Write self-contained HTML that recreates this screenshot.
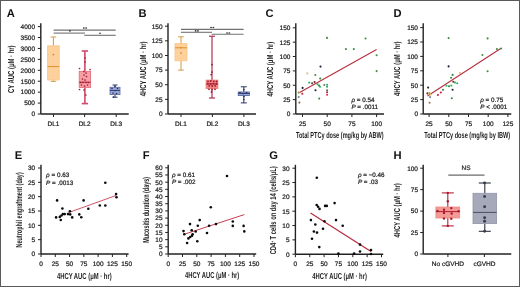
<!DOCTYPE html>
<html><head><meta charset="utf-8"><style>
html,body{margin:0;padding:0;background:#fff;}
body{width:520px;height:287px;overflow:hidden;position:relative;}
svg{position:absolute;left:0;top:0;font-family:"Liberation Sans", sans-serif;will-change:transform;text-rendering:geometricPrecision;}
.n{stroke:#222;stroke-width:0.22px;paint-order:stroke;}
.frame{position:absolute;left:0;top:0;width:520px;height:287px;box-sizing:border-box;border:1px solid #5a5a5a;}
</style></head><body>
<svg width="520" height="287" viewBox="0 0 520 287" fill="#1e1e1e">
<text x="6.80" y="16.80" font-size="11.2" text-anchor="start" font-weight="bold" fill="#111" >A</text>
<line x1="40.80" y1="23.20" x2="40.80" y2="114.00" stroke="#222222" stroke-width="1.4" />
<line x1="37.80" y1="114.00" x2="40.80" y2="114.00" stroke="#222222" stroke-width="1.0" />
<text x="35.00" y="116.34" font-size="6.5" text-anchor="end" class="n" >0</text>
<line x1="37.80" y1="103.08" x2="40.80" y2="103.08" stroke="#222222" stroke-width="1.0" />
<text x="35.00" y="105.42" font-size="6.5" text-anchor="end" class="n" >500</text>
<line x1="37.80" y1="92.15" x2="40.80" y2="92.15" stroke="#222222" stroke-width="1.0" />
<text x="35.00" y="94.49" font-size="6.5" text-anchor="end" class="n" >1000</text>
<line x1="37.80" y1="81.22" x2="40.80" y2="81.22" stroke="#222222" stroke-width="1.0" />
<text x="35.00" y="83.56" font-size="6.5" text-anchor="end" class="n" >1500</text>
<line x1="37.80" y1="70.30" x2="40.80" y2="70.30" stroke="#222222" stroke-width="1.0" />
<text x="35.00" y="72.64" font-size="6.5" text-anchor="end" class="n" >2000</text>
<line x1="37.80" y1="59.38" x2="40.80" y2="59.38" stroke="#222222" stroke-width="1.0" />
<text x="35.00" y="61.72" font-size="6.5" text-anchor="end" class="n" >2500</text>
<line x1="37.80" y1="48.45" x2="40.80" y2="48.45" stroke="#222222" stroke-width="1.0" />
<text x="35.00" y="50.79" font-size="6.5" text-anchor="end" class="n" >3000</text>
<line x1="37.80" y1="37.52" x2="40.80" y2="37.52" stroke="#222222" stroke-width="1.0" />
<text x="35.00" y="39.86" font-size="6.5" text-anchor="end" class="n" >3500</text>
<line x1="37.80" y1="26.60" x2="40.80" y2="26.60" stroke="#222222" stroke-width="1.0" />
<text x="35.00" y="28.94" font-size="6.5" text-anchor="end" class="n" >4000</text>
<line x1="40.80" y1="114.00" x2="128.70" y2="114.00" stroke="#222222" stroke-width="1.4" />
<line x1="53.50" y1="114.00" x2="53.50" y2="117.00" stroke="#222222" stroke-width="1.0" />
<text x="53.50" y="125.60" font-size="6.5" text-anchor="middle" class="n" >DL1</text>
<line x1="84.60" y1="114.00" x2="84.60" y2="117.00" stroke="#222222" stroke-width="1.0" />
<text x="84.60" y="125.60" font-size="6.5" text-anchor="middle" class="n" >DL2</text>
<line x1="116.20" y1="114.00" x2="116.20" y2="117.00" stroke="#222222" stroke-width="1.0" />
<text x="116.20" y="125.60" font-size="6.5" text-anchor="middle" class="n" >DL3</text>
<text x="14.05" y="69.20" font-size="8.6" text-anchor="middle" font-weight="bold" textLength="47.50" lengthAdjust="spacingAndGlyphs" transform="rotate(-90 14.05 69.20)" >CY AUC (μM · hr)</text>
<line x1="53.60" y1="30.10" x2="115.70" y2="30.10" stroke="#727272" stroke-width="1.1" />
<line x1="53.60" y1="33.10" x2="85.00" y2="33.10" stroke="#727272" stroke-width="1.1" />
<line x1="84.20" y1="35.30" x2="115.70" y2="35.30" stroke="#727272" stroke-width="1.1" />
<ellipse cx="83.85" cy="28.10" rx="0.95" ry="0.8" fill="#3a3a3a"/>
<ellipse cx="86.15" cy="28.10" rx="0.95" ry="0.8" fill="#3a3a3a"/>
<ellipse cx="69.90" cy="30.90" rx="0.95" ry="0.8" fill="#3a3a3a"/>
<ellipse cx="100.00" cy="33.20" rx="0.95" ry="0.8" fill="#3a3a3a"/>
<line x1="53.40" y1="37.00" x2="53.40" y2="45.80" stroke="#d09a40" stroke-width="1.0" />
<line x1="53.40" y1="80.00" x2="53.40" y2="81.30" stroke="#d09a40" stroke-width="1.0" />
<line x1="50.60" y1="37.00" x2="56.20" y2="37.00" stroke="#d09a40" stroke-width="1.0" />
<line x1="50.60" y1="81.30" x2="56.20" y2="81.30" stroke="#d09a40" stroke-width="1.0" />
<rect x="47.60" y="45.80" width="11.60" height="34.20" fill="#fdd09c" stroke="#f8c688" stroke-width="0.8" />
<line x1="47.60" y1="66.60" x2="59.20" y2="66.60" stroke="#e0902e" stroke-width="1.0" />
<circle cx="53.40" cy="54.60" r="0.9" fill="#d08a30"/>
<line x1="84.90" y1="51.00" x2="84.90" y2="71.30" stroke="#d04a6a" stroke-width="1.6" />
<line x1="84.90" y1="87.50" x2="84.90" y2="103.60" stroke="#d04a6a" stroke-width="1.6" />
<line x1="81.70" y1="51.00" x2="88.10" y2="51.00" stroke="#d04a6a" stroke-width="1.6" />
<line x1="81.70" y1="103.60" x2="88.10" y2="103.60" stroke="#d04a6a" stroke-width="1.6" />
<rect x="79.20" y="71.30" width="11.40" height="16.20" fill="#f5a0a4" stroke="#e06a78" stroke-width="0.8" />
<line x1="79.20" y1="82.20" x2="90.60" y2="82.20" stroke="#b02038" stroke-width="1.0" />
<circle cx="79.50" cy="68.50" r="0.85" fill="#a81c34"/>
<circle cx="90.00" cy="69.50" r="0.85" fill="#a81c34"/>
<circle cx="83.80" cy="71.50" r="0.85" fill="#a81c34"/>
<circle cx="86.00" cy="73.00" r="0.85" fill="#a81c34"/>
<circle cx="84.00" cy="75.00" r="0.85" fill="#a81c34"/>
<circle cx="86.50" cy="76.50" r="0.85" fill="#a81c34"/>
<circle cx="82.50" cy="79.00" r="0.85" fill="#a81c34"/>
<circle cx="85.00" cy="80.00" r="0.85" fill="#a81c34"/>
<circle cx="80.50" cy="82.50" r="0.85" fill="#a81c34"/>
<circle cx="83.00" cy="82.50" r="0.85" fill="#a81c34"/>
<circle cx="86.00" cy="82.50" r="0.85" fill="#a81c34"/>
<circle cx="88.50" cy="82.50" r="0.85" fill="#a81c34"/>
<circle cx="81.50" cy="85.00" r="0.85" fill="#a81c34"/>
<circle cx="84.50" cy="86.00" r="0.85" fill="#a81c34"/>
<circle cx="87.50" cy="85.00" r="0.85" fill="#a81c34"/>
<circle cx="79.50" cy="89.50" r="0.85" fill="#a81c34"/>
<circle cx="84.00" cy="90.00" r="0.85" fill="#a81c34"/>
<circle cx="85.80" cy="95.00" r="0.85" fill="#a81c34"/>
<circle cx="85.00" cy="62.00" r="0.85" fill="#a81c34"/>
<circle cx="85.00" cy="58.00" r="0.85" fill="#a81c34"/>
<line x1="115.00" y1="85.00" x2="115.00" y2="87.30" stroke="#283468" stroke-width="1.0" />
<line x1="115.00" y1="94.60" x2="115.00" y2="97.20" stroke="#283468" stroke-width="1.0" />
<line x1="112.50" y1="85.00" x2="117.50" y2="85.00" stroke="#283468" stroke-width="1.0" />
<line x1="112.50" y1="97.20" x2="117.50" y2="97.20" stroke="#283468" stroke-width="1.0" />
<rect x="110.00" y="87.30" width="10.00" height="7.30" fill="#9aa8d4" stroke="#5a6ca4" stroke-width="0.8" />
<line x1="110.00" y1="90.50" x2="120.00" y2="90.50" stroke="#34437c" stroke-width="1.0" />
<circle cx="112.00" cy="88.50" r="0.85" fill="#26336a"/>
<circle cx="117.50" cy="88.50" r="0.85" fill="#26336a"/>
<circle cx="115.00" cy="90.50" r="0.85" fill="#26336a"/>
<circle cx="113.00" cy="93.00" r="0.85" fill="#26336a"/>
<circle cx="116.50" cy="93.50" r="0.85" fill="#26336a"/>
<circle cx="115.00" cy="86.50" r="0.85" fill="#26336a"/>
<circle cx="113.50" cy="97.00" r="0.85" fill="#26336a"/>
<text x="138.60" y="16.80" font-size="11.2" text-anchor="start" font-weight="bold" fill="#111" >B</text>
<line x1="168.00" y1="23.20" x2="168.00" y2="114.00" stroke="#222222" stroke-width="1.4" />
<line x1="165.00" y1="114.00" x2="168.00" y2="114.00" stroke="#222222" stroke-width="1.0" />
<text x="162.60" y="116.34" font-size="6.5" text-anchor="end" class="n" >0</text>
<line x1="165.00" y1="99.37" x2="168.00" y2="99.37" stroke="#222222" stroke-width="1.0" />
<text x="162.60" y="101.71" font-size="6.5" text-anchor="end" class="n" >25</text>
<line x1="165.00" y1="84.73" x2="168.00" y2="84.73" stroke="#222222" stroke-width="1.0" />
<text x="162.60" y="87.07" font-size="6.5" text-anchor="end" class="n" >50</text>
<line x1="165.00" y1="70.10" x2="168.00" y2="70.10" stroke="#222222" stroke-width="1.0" />
<text x="162.60" y="72.44" font-size="6.5" text-anchor="end" class="n" >75</text>
<line x1="165.00" y1="55.47" x2="168.00" y2="55.47" stroke="#222222" stroke-width="1.0" />
<text x="162.60" y="57.81" font-size="6.5" text-anchor="end" class="n" >100</text>
<line x1="165.00" y1="40.83" x2="168.00" y2="40.83" stroke="#222222" stroke-width="1.0" />
<text x="162.60" y="43.17" font-size="6.5" text-anchor="end" class="n" >125</text>
<line x1="165.00" y1="26.20" x2="168.00" y2="26.20" stroke="#222222" stroke-width="1.0" />
<text x="162.60" y="28.54" font-size="6.5" text-anchor="end" class="n" >150</text>
<line x1="168.00" y1="114.00" x2="256.00" y2="114.00" stroke="#222222" stroke-width="1.4" />
<line x1="181.00" y1="114.00" x2="181.00" y2="117.00" stroke="#222222" stroke-width="1.0" />
<text x="181.00" y="125.60" font-size="6.5" text-anchor="middle" class="n" >DL1</text>
<line x1="212.40" y1="114.00" x2="212.40" y2="117.00" stroke="#222222" stroke-width="1.0" />
<text x="212.40" y="125.60" font-size="6.5" text-anchor="middle" class="n" >DL2</text>
<line x1="243.90" y1="114.00" x2="243.90" y2="117.00" stroke="#222222" stroke-width="1.0" />
<text x="243.90" y="125.60" font-size="6.5" text-anchor="middle" class="n" >DL3</text>
<text x="145.60" y="68.90" font-size="8.6" text-anchor="middle" font-weight="bold" textLength="54.70" lengthAdjust="spacingAndGlyphs" transform="rotate(-90 145.60 68.90)" >4HCY AUC (μM · hr)</text>
<line x1="181.00" y1="29.40" x2="243.60" y2="29.40" stroke="#727272" stroke-width="1.1" />
<line x1="181.00" y1="32.30" x2="212.00" y2="32.30" stroke="#727272" stroke-width="1.1" />
<line x1="211.60" y1="34.30" x2="243.60" y2="34.30" stroke="#727272" stroke-width="1.1" />
<ellipse cx="211.05" cy="27.50" rx="0.95" ry="0.8" fill="#3a3a3a"/>
<ellipse cx="213.35" cy="27.50" rx="0.95" ry="0.8" fill="#3a3a3a"/>
<ellipse cx="195.65" cy="30.90" rx="0.95" ry="0.8" fill="#3a3a3a"/>
<ellipse cx="197.95" cy="30.90" rx="0.95" ry="0.8" fill="#3a3a3a"/>
<ellipse cx="227.05" cy="33.00" rx="0.95" ry="0.8" fill="#3a3a3a"/>
<ellipse cx="229.35" cy="33.00" rx="0.95" ry="0.8" fill="#3a3a3a"/>
<line x1="181.00" y1="36.80" x2="181.00" y2="43.60" stroke="#d09a40" stroke-width="1.0" />
<line x1="181.00" y1="60.80" x2="181.00" y2="70.10" stroke="#d09a40" stroke-width="1.0" />
<line x1="178.20" y1="36.80" x2="183.80" y2="36.80" stroke="#d09a40" stroke-width="1.0" />
<line x1="178.20" y1="70.10" x2="183.80" y2="70.10" stroke="#d09a40" stroke-width="1.0" />
<rect x="175.00" y="43.60" width="12.00" height="17.20" fill="#fdd09c" stroke="#f8c688" stroke-width="0.8" />
<line x1="175.00" y1="47.80" x2="187.00" y2="47.80" stroke="#e0902e" stroke-width="1.0" />
<circle cx="181.00" cy="53.10" r="0.9" fill="#d08a30"/>
<circle cx="181.00" cy="47.80" r="0.8" fill="#d08a30"/>
<line x1="212.00" y1="36.20" x2="212.00" y2="80.10" stroke="#a82040" stroke-width="1.1" />
<line x1="212.00" y1="88.60" x2="212.00" y2="98.00" stroke="#a82040" stroke-width="1.1" />
<line x1="209.00" y1="36.20" x2="215.00" y2="36.20" stroke="#a82040" stroke-width="1.1" />
<line x1="209.00" y1="98.00" x2="215.00" y2="98.00" stroke="#a82040" stroke-width="1.1" />
<rect x="206.10" y="80.10" width="11.80" height="8.50" fill="#f0847e" stroke="#ec7a78" stroke-width="0.8" />
<line x1="206.10" y1="84.00" x2="217.90" y2="84.00" stroke="#b02038" stroke-width="1.0" />
<circle cx="212.00" cy="64.60" r="0.9" fill="#a01830"/>
<circle cx="212.00" cy="72.10" r="0.9" fill="#a01830"/>
<circle cx="211.20" cy="74.60" r="0.9" fill="#a01830"/>
<circle cx="208.00" cy="81.30" r="0.9" fill="#a01830"/>
<circle cx="210.80" cy="81.00" r="0.9" fill="#a01830"/>
<circle cx="213.80" cy="81.30" r="0.9" fill="#a01830"/>
<circle cx="216.60" cy="81.50" r="0.9" fill="#a01830"/>
<circle cx="207.80" cy="83.60" r="0.9" fill="#a01830"/>
<circle cx="210.60" cy="83.80" r="0.9" fill="#a01830"/>
<circle cx="213.50" cy="83.60" r="0.9" fill="#a01830"/>
<circle cx="216.40" cy="83.80" r="0.9" fill="#a01830"/>
<circle cx="209.20" cy="85.80" r="0.9" fill="#a01830"/>
<circle cx="212.20" cy="86.00" r="0.9" fill="#a01830"/>
<circle cx="215.20" cy="85.80" r="0.9" fill="#a01830"/>
<circle cx="209.00" cy="89.30" r="0.9" fill="#a01830"/>
<circle cx="212.00" cy="89.50" r="0.9" fill="#a01830"/>
<circle cx="215.00" cy="89.30" r="0.9" fill="#a01830"/>
<circle cx="211.50" cy="92.00" r="0.9" fill="#a01830"/>
<line x1="243.80" y1="86.80" x2="243.80" y2="92.00" stroke="#263264" stroke-width="1.0" />
<line x1="243.80" y1="95.50" x2="243.80" y2="102.90" stroke="#263264" stroke-width="1.0" />
<line x1="240.80" y1="86.80" x2="246.80" y2="86.80" stroke="#263264" stroke-width="1.0" />
<line x1="240.80" y1="102.90" x2="246.80" y2="102.90" stroke="#263264" stroke-width="1.0" />
<rect x="238.20" y="92.00" width="11.20" height="3.50" fill="#9aa8d4" stroke="#4a5c98" stroke-width="0.8" />
<line x1="238.20" y1="93.50" x2="249.40" y2="93.50" stroke="#34437c" stroke-width="1.0" />
<circle cx="240.00" cy="92.50" r="0.85" fill="#26336a"/>
<circle cx="243.00" cy="93.50" r="0.85" fill="#26336a"/>
<circle cx="246.50" cy="92.50" r="0.85" fill="#26336a"/>
<circle cx="244.00" cy="96.50" r="0.85" fill="#26336a"/>
<circle cx="243.90" cy="89.50" r="0.85" fill="#26336a"/>
<circle cx="243.90" cy="99.50" r="0.85" fill="#26336a"/>
<text x="265.60" y="16.80" font-size="11.2" text-anchor="start" font-weight="bold" fill="#111" >C</text>
<line x1="295.80" y1="23.20" x2="295.80" y2="114.00" stroke="#222222" stroke-width="1.4" />
<line x1="292.80" y1="114.00" x2="295.80" y2="114.00" stroke="#222222" stroke-width="1.0" />
<text x="290.40" y="116.34" font-size="6.5" text-anchor="end" class="n" >0</text>
<line x1="292.80" y1="99.63" x2="295.80" y2="99.63" stroke="#222222" stroke-width="1.0" />
<text x="290.40" y="101.97" font-size="6.5" text-anchor="end" class="n" >25</text>
<line x1="292.80" y1="85.27" x2="295.80" y2="85.27" stroke="#222222" stroke-width="1.0" />
<text x="290.40" y="87.61" font-size="6.5" text-anchor="end" class="n" >50</text>
<line x1="292.80" y1="70.90" x2="295.80" y2="70.90" stroke="#222222" stroke-width="1.0" />
<text x="290.40" y="73.24" font-size="6.5" text-anchor="end" class="n" >75</text>
<line x1="292.80" y1="56.53" x2="295.80" y2="56.53" stroke="#222222" stroke-width="1.0" />
<text x="290.40" y="58.87" font-size="6.5" text-anchor="end" class="n" >100</text>
<line x1="292.80" y1="42.17" x2="295.80" y2="42.17" stroke="#222222" stroke-width="1.0" />
<text x="290.40" y="44.51" font-size="6.5" text-anchor="end" class="n" >125</text>
<line x1="292.80" y1="27.80" x2="295.80" y2="27.80" stroke="#222222" stroke-width="1.0" />
<text x="290.40" y="30.14" font-size="6.5" text-anchor="end" class="n" >150</text>
<line x1="295.80" y1="114.00" x2="384.00" y2="114.00" stroke="#222222" stroke-width="1.4" />
<line x1="302.50" y1="114.00" x2="302.50" y2="117.00" stroke="#222222" stroke-width="1.0" />
<text x="302.50" y="125.80" font-size="6.5" text-anchor="middle" class="n" >25</text>
<line x1="327.20" y1="114.00" x2="327.20" y2="117.00" stroke="#222222" stroke-width="1.0" />
<text x="327.20" y="125.80" font-size="6.5" text-anchor="middle" class="n" >50</text>
<line x1="351.90" y1="114.00" x2="351.90" y2="117.00" stroke="#222222" stroke-width="1.0" />
<text x="351.90" y="125.80" font-size="6.5" text-anchor="middle" class="n" >75</text>
<line x1="376.60" y1="114.00" x2="376.60" y2="117.00" stroke="#222222" stroke-width="1.0" />
<text x="376.60" y="125.80" font-size="6.5" text-anchor="middle" class="n" >100</text>
<text x="273.00" y="69.05" font-size="8.6" text-anchor="middle" font-weight="bold" textLength="54.70" lengthAdjust="spacingAndGlyphs" transform="rotate(-90 273.00 69.05)" >4HCY AUC (μM · hr)</text>
<text x="339.80" y="137.80" font-size="8.6" text-anchor="middle" font-weight="bold" textLength="87.80" lengthAdjust="spacingAndGlyphs" >Total PTCy dose (mg/kg by ABW)</text>
<text class="n" x="351.40" y="101.80" font-size="6.3"><tspan font-style="italic">ρ</tspan> = 0.54</text>
<text class="n" x="351.40" y="108.70" font-size="6.3"><tspan font-style="italic">P</tspan> = .0011</text>
<line x1="299.60" y1="92.50" x2="376.60" y2="49.50" stroke="#b83040" stroke-width="1.15" />
<circle cx="327.00" cy="37.90" r="1.05" fill="#3f8c45"/>
<circle cx="365.50" cy="38.50" r="1.05" fill="#3f8c45"/>
<circle cx="345.90" cy="49.10" r="1.05" fill="#3f8c45"/>
<circle cx="353.80" cy="49.10" r="1.05" fill="#3f8c45"/>
<circle cx="376.60" cy="55.20" r="1.05" fill="#3f8c45"/>
<circle cx="376.60" cy="71.10" r="1.05" fill="#3f8c45"/>
<circle cx="320.50" cy="66.60" r="1.05" fill="#18203a"/>
<circle cx="307.30" cy="73.40" r="1.05" fill="#d8c08a"/>
<circle cx="315.30" cy="75.00" r="1.05" fill="#3f8c45"/>
<circle cx="320.20" cy="78.50" r="1.05" fill="#2f8a44"/>
<circle cx="309.20" cy="82.60" r="1.05" fill="#2fb060"/>
<circle cx="314.60" cy="82.10" r="1.05" fill="#8a1c24"/>
<circle cx="312.10" cy="83.30" r="1.05" fill="#404a30"/>
<circle cx="317.50" cy="84.20" r="1.05" fill="#2fb060"/>
<circle cx="319.00" cy="85.60" r="1.05" fill="#2f8a44"/>
<circle cx="320.00" cy="86.80" r="1.05" fill="#2fb060"/>
<circle cx="324.30" cy="85.00" r="1.05" fill="#6a7a6a"/>
<circle cx="327.10" cy="84.80" r="1.05" fill="#28a868"/>
<circle cx="327.10" cy="86.80" r="1.05" fill="#28a868"/>
<circle cx="327.10" cy="90.20" r="1.05" fill="#5a6a5a"/>
<circle cx="327.10" cy="92.20" r="1.05" fill="#b82030"/>
<circle cx="327.10" cy="94.80" r="1.05" fill="#e02848"/>
<circle cx="302.60" cy="87.90" r="1.05" fill="#18203a"/>
<circle cx="315.50" cy="90.20" r="1.05" fill="#18203a"/>
<circle cx="298.70" cy="92.60" r="1.05" fill="#8a9a30"/>
<circle cx="302.30" cy="93.80" r="1.05" fill="#cc2030"/>
<circle cx="298.70" cy="97.00" r="1.05" fill="#7080a0"/>
<circle cx="299.40" cy="102.60" r="1.05" fill="#806050"/>
<circle cx="319.20" cy="98.60" r="1.05" fill="#3f8c45"/>
<text x="393.60" y="16.80" font-size="11.2" text-anchor="start" font-weight="bold" fill="#111" >D</text>
<line x1="423.20" y1="23.20" x2="423.20" y2="114.00" stroke="#222222" stroke-width="1.4" />
<line x1="420.20" y1="114.00" x2="423.20" y2="114.00" stroke="#222222" stroke-width="1.0" />
<text x="418.00" y="116.34" font-size="6.5" text-anchor="end" class="n" >0</text>
<line x1="420.20" y1="99.60" x2="423.20" y2="99.60" stroke="#222222" stroke-width="1.0" />
<text x="418.00" y="101.94" font-size="6.5" text-anchor="end" class="n" >25</text>
<line x1="420.20" y1="85.20" x2="423.20" y2="85.20" stroke="#222222" stroke-width="1.0" />
<text x="418.00" y="87.54" font-size="6.5" text-anchor="end" class="n" >50</text>
<line x1="420.20" y1="70.80" x2="423.20" y2="70.80" stroke="#222222" stroke-width="1.0" />
<text x="418.00" y="73.14" font-size="6.5" text-anchor="end" class="n" >75</text>
<line x1="420.20" y1="56.40" x2="423.20" y2="56.40" stroke="#222222" stroke-width="1.0" />
<text x="418.00" y="58.74" font-size="6.5" text-anchor="end" class="n" >100</text>
<line x1="420.20" y1="42.00" x2="423.20" y2="42.00" stroke="#222222" stroke-width="1.0" />
<text x="418.00" y="44.34" font-size="6.5" text-anchor="end" class="n" >125</text>
<line x1="420.20" y1="27.60" x2="423.20" y2="27.60" stroke="#222222" stroke-width="1.0" />
<text x="418.00" y="29.94" font-size="6.5" text-anchor="end" class="n" >150</text>
<line x1="423.20" y1="114.00" x2="511.30" y2="114.00" stroke="#222222" stroke-width="1.4" />
<line x1="429.10" y1="114.00" x2="429.10" y2="117.00" stroke="#222222" stroke-width="1.0" />
<text x="429.10" y="125.60" font-size="6.5" text-anchor="middle" class="n" >25</text>
<line x1="448.80" y1="114.00" x2="448.80" y2="117.00" stroke="#222222" stroke-width="1.0" />
<text x="448.80" y="125.60" font-size="6.5" text-anchor="middle" class="n" >50</text>
<line x1="468.50" y1="114.00" x2="468.50" y2="117.00" stroke="#222222" stroke-width="1.0" />
<text x="468.50" y="125.60" font-size="6.5" text-anchor="middle" class="n" >75</text>
<line x1="488.20" y1="114.00" x2="488.20" y2="117.00" stroke="#222222" stroke-width="1.0" />
<text x="488.20" y="125.60" font-size="6.5" text-anchor="middle" class="n" >100</text>
<line x1="507.90" y1="114.00" x2="507.90" y2="117.00" stroke="#222222" stroke-width="1.0" />
<text x="507.90" y="125.60" font-size="6.5" text-anchor="middle" class="n" >125</text>
<text x="400.50" y="68.70" font-size="8.6" text-anchor="middle" font-weight="bold" textLength="54.40" lengthAdjust="spacingAndGlyphs" transform="rotate(-90 400.50 68.70)" >4HCY AUC (μM · hr)</text>
<text x="467.20" y="137.80" font-size="8.6" text-anchor="middle" font-weight="bold" textLength="86.00" lengthAdjust="spacingAndGlyphs" >Total PTCy dose (mg/kg by IBW)</text>
<text class="n" x="480.20" y="101.70" font-size="6.3"><tspan font-style="italic">ρ</tspan> = 0.75</text>
<text class="n" x="480.20" y="108.80" font-size="6.3"><tspan font-style="italic">P</tspan> &lt; .0001</text>
<line x1="427.50" y1="96.00" x2="500.70" y2="48.50" stroke="#b83040" stroke-width="1.15" />
<circle cx="448.60" cy="38.10" r="1.05" fill="#3f8c45"/>
<circle cx="487.60" cy="38.40" r="1.05" fill="#3f8c45"/>
<circle cx="482.40" cy="55.00" r="1.05" fill="#3f8c45"/>
<circle cx="496.90" cy="49.00" r="1.05" fill="#3f8c45"/>
<circle cx="501.10" cy="48.50" r="1.05" fill="#3f8c45"/>
<circle cx="487.60" cy="71.20" r="1.05" fill="#3f8c45"/>
<circle cx="448.60" cy="66.40" r="1.05" fill="#18203a"/>
<circle cx="459.90" cy="73.00" r="1.05" fill="#e8b870"/>
<circle cx="452.60" cy="74.90" r="1.05" fill="#2f8a44"/>
<circle cx="451.10" cy="77.80" r="1.05" fill="#2f8a44"/>
<circle cx="453.30" cy="81.80" r="1.05" fill="#8a1c24"/>
<circle cx="455.00" cy="82.60" r="1.05" fill="#2fb060"/>
<circle cx="457.20" cy="83.20" r="1.05" fill="#2fb060"/>
<circle cx="446.50" cy="85.80" r="1.05" fill="#2fb060"/>
<circle cx="449.00" cy="86.20" r="1.05" fill="#2f8a44"/>
<circle cx="451.30" cy="85.60" r="1.05" fill="#2fb060"/>
<circle cx="452.60" cy="89.80" r="1.05" fill="#18203a"/>
<circle cx="443.00" cy="89.80" r="1.05" fill="#2f8a44"/>
<circle cx="440.80" cy="92.50" r="1.05" fill="#cc2030"/>
<circle cx="437.90" cy="95.00" r="1.05" fill="#cc2030"/>
<circle cx="428.10" cy="87.60" r="1.05" fill="#18203a"/>
<circle cx="427.40" cy="93.40" r="1.05" fill="#8a1c24"/>
<circle cx="429.40" cy="93.00" r="1.05" fill="#9aa830"/>
<circle cx="430.60" cy="94.50" r="1.05" fill="#e0c050"/>
<circle cx="430.10" cy="97.10" r="1.05" fill="#7080a0"/>
<circle cx="429.60" cy="102.80" r="1.05" fill="#a07050"/>
<circle cx="451.80" cy="98.30" r="1.05" fill="#3f8c45"/>
<text x="14.80" y="158.80" font-size="11.2" text-anchor="start" font-weight="bold" fill="#111" >E</text>
<line x1="41.00" y1="164.80" x2="41.00" y2="254.00" stroke="#222222" stroke-width="1.4" />
<line x1="38.00" y1="254.00" x2="41.00" y2="254.00" stroke="#222222" stroke-width="1.0" />
<text x="35.20" y="256.34" font-size="6.5" text-anchor="end" class="n" >0</text>
<line x1="38.00" y1="239.67" x2="41.00" y2="239.67" stroke="#222222" stroke-width="1.0" />
<text x="35.20" y="242.01" font-size="6.5" text-anchor="end" class="n" >5</text>
<line x1="38.00" y1="225.33" x2="41.00" y2="225.33" stroke="#222222" stroke-width="1.0" />
<text x="35.20" y="227.67" font-size="6.5" text-anchor="end" class="n" >10</text>
<line x1="38.00" y1="211.00" x2="41.00" y2="211.00" stroke="#222222" stroke-width="1.0" />
<text x="35.20" y="213.34" font-size="6.5" text-anchor="end" class="n" >15</text>
<line x1="38.00" y1="196.67" x2="41.00" y2="196.67" stroke="#222222" stroke-width="1.0" />
<text x="35.20" y="199.01" font-size="6.5" text-anchor="end" class="n" >20</text>
<line x1="38.00" y1="182.33" x2="41.00" y2="182.33" stroke="#222222" stroke-width="1.0" />
<text x="35.20" y="184.67" font-size="6.5" text-anchor="end" class="n" >25</text>
<line x1="38.00" y1="168.00" x2="41.00" y2="168.00" stroke="#222222" stroke-width="1.0" />
<text x="35.20" y="170.34" font-size="6.5" text-anchor="end" class="n" >30</text>
<line x1="41.00" y1="254.00" x2="128.60" y2="254.00" stroke="#222222" stroke-width="1.4" />
<line x1="41.00" y1="254.00" x2="41.00" y2="257.00" stroke="#222222" stroke-width="1.0" />
<text x="41.00" y="265.70" font-size="6.5" text-anchor="middle" class="n" >0</text>
<line x1="55.28" y1="254.00" x2="55.28" y2="257.00" stroke="#222222" stroke-width="1.0" />
<text x="55.28" y="265.70" font-size="6.5" text-anchor="middle" class="n" >25</text>
<line x1="69.56" y1="254.00" x2="69.56" y2="257.00" stroke="#222222" stroke-width="1.0" />
<text x="69.56" y="265.70" font-size="6.5" text-anchor="middle" class="n" >50</text>
<line x1="83.84" y1="254.00" x2="83.84" y2="257.00" stroke="#222222" stroke-width="1.0" />
<text x="83.84" y="265.70" font-size="6.5" text-anchor="middle" class="n" >75</text>
<line x1="98.12" y1="254.00" x2="98.12" y2="257.00" stroke="#222222" stroke-width="1.0" />
<text x="98.12" y="265.70" font-size="6.5" text-anchor="middle" class="n" >100</text>
<line x1="112.40" y1="254.00" x2="112.40" y2="257.00" stroke="#222222" stroke-width="1.0" />
<text x="112.40" y="265.70" font-size="6.5" text-anchor="middle" class="n" >125</text>
<line x1="126.68" y1="254.00" x2="126.68" y2="257.00" stroke="#222222" stroke-width="1.0" />
<text x="126.68" y="265.70" font-size="6.5" text-anchor="middle" class="n" >150</text>
<text x="21.70" y="209.90" font-size="8.6" text-anchor="middle" font-weight="bold" textLength="75.20" lengthAdjust="spacingAndGlyphs" transform="rotate(-90 21.70 209.90)" >Neutrophil engraftment (day)</text>
<text x="84.30" y="278.60" font-size="8.6" text-anchor="middle" font-weight="bold" textLength="54.80" lengthAdjust="spacingAndGlyphs" >4HCY AUC (μM · hr)</text>
<text class="n" x="46.10" y="177.10" font-size="6.3"><tspan font-style="italic">ρ</tspan> = 0.63</text>
<text class="n" x="46.10" y="184.60" font-size="6.3"><tspan font-style="italic">P</tspan> = .0013</text>
<line x1="68.50" y1="212.60" x2="116.30" y2="195.40" stroke="#c84058" stroke-width="0.9" />
<circle cx="57.10" cy="200.40" r="1.3" fill="#0a0a0a"/>
<circle cx="83.60" cy="200.40" r="1.3" fill="#0a0a0a"/>
<circle cx="62.40" cy="208.50" r="1.3" fill="#0a0a0a"/>
<circle cx="56.10" cy="217.40" r="1.3" fill="#0a0a0a"/>
<circle cx="59.80" cy="216.90" r="1.3" fill="#0a0a0a"/>
<circle cx="60.80" cy="220.00" r="1.3" fill="#0a0a0a"/>
<circle cx="61.50" cy="215.50" r="1.3" fill="#0a0a0a"/>
<circle cx="62.90" cy="214.10" r="1.3" fill="#0a0a0a"/>
<circle cx="64.70" cy="214.10" r="1.3" fill="#0a0a0a"/>
<circle cx="68.00" cy="214.10" r="1.3" fill="#0a0a0a"/>
<circle cx="69.90" cy="211.30" r="1.3" fill="#0a0a0a"/>
<circle cx="70.20" cy="214.40" r="1.3" fill="#0a0a0a"/>
<circle cx="72.20" cy="217.40" r="1.3" fill="#0a0a0a"/>
<circle cx="79.30" cy="214.40" r="1.3" fill="#0a0a0a"/>
<circle cx="81.30" cy="217.30" r="1.3" fill="#0a0a0a"/>
<circle cx="88.30" cy="208.70" r="1.3" fill="#0a0a0a"/>
<circle cx="99.80" cy="205.50" r="1.3" fill="#0a0a0a"/>
<circle cx="105.30" cy="205.50" r="1.3" fill="#0a0a0a"/>
<circle cx="105.30" cy="182.80" r="1.3" fill="#0a0a0a"/>
<circle cx="116.10" cy="194.10" r="1.3" fill="#0a0a0a"/>
<circle cx="116.50" cy="197.20" r="1.3" fill="#0a0a0a"/>
<text x="142.80" y="158.80" font-size="11.2" text-anchor="start" font-weight="bold" fill="#111" >F</text>
<line x1="168.20" y1="164.80" x2="168.20" y2="254.00" stroke="#222222" stroke-width="1.4" />
<line x1="165.20" y1="254.00" x2="168.20" y2="254.00" stroke="#222222" stroke-width="1.0" />
<text x="162.60" y="256.34" font-size="6.5" text-anchor="end" class="n" >0</text>
<line x1="165.20" y1="246.82" x2="168.20" y2="246.82" stroke="#222222" stroke-width="1.0" />
<text x="162.60" y="249.16" font-size="6.5" text-anchor="end" class="n" >5</text>
<line x1="165.20" y1="239.63" x2="168.20" y2="239.63" stroke="#222222" stroke-width="1.0" />
<text x="162.60" y="241.97" font-size="6.5" text-anchor="end" class="n" >10</text>
<line x1="165.20" y1="232.45" x2="168.20" y2="232.45" stroke="#222222" stroke-width="1.0" />
<text x="162.60" y="234.79" font-size="6.5" text-anchor="end" class="n" >15</text>
<line x1="165.20" y1="225.27" x2="168.20" y2="225.27" stroke="#222222" stroke-width="1.0" />
<text x="162.60" y="227.61" font-size="6.5" text-anchor="end" class="n" >20</text>
<line x1="165.20" y1="218.08" x2="168.20" y2="218.08" stroke="#222222" stroke-width="1.0" />
<text x="162.60" y="220.42" font-size="6.5" text-anchor="end" class="n" >25</text>
<line x1="165.20" y1="210.90" x2="168.20" y2="210.90" stroke="#222222" stroke-width="1.0" />
<text x="162.60" y="213.24" font-size="6.5" text-anchor="end" class="n" >30</text>
<line x1="165.20" y1="203.72" x2="168.20" y2="203.72" stroke="#222222" stroke-width="1.0" />
<text x="162.60" y="206.06" font-size="6.5" text-anchor="end" class="n" >35</text>
<line x1="165.20" y1="196.53" x2="168.20" y2="196.53" stroke="#222222" stroke-width="1.0" />
<text x="162.60" y="198.87" font-size="6.5" text-anchor="end" class="n" >40</text>
<line x1="165.20" y1="189.35" x2="168.20" y2="189.35" stroke="#222222" stroke-width="1.0" />
<text x="162.60" y="191.69" font-size="6.5" text-anchor="end" class="n" >45</text>
<line x1="165.20" y1="182.17" x2="168.20" y2="182.17" stroke="#222222" stroke-width="1.0" />
<text x="162.60" y="184.51" font-size="6.5" text-anchor="end" class="n" >50</text>
<line x1="165.20" y1="174.98" x2="168.20" y2="174.98" stroke="#222222" stroke-width="1.0" />
<text x="162.60" y="177.32" font-size="6.5" text-anchor="end" class="n" >55</text>
<line x1="165.20" y1="167.80" x2="168.20" y2="167.80" stroke="#222222" stroke-width="1.0" />
<text x="162.60" y="170.14" font-size="6.5" text-anchor="end" class="n" >60</text>
<line x1="168.20" y1="254.00" x2="256.20" y2="254.00" stroke="#222222" stroke-width="1.4" />
<line x1="168.20" y1="254.00" x2="168.20" y2="257.00" stroke="#222222" stroke-width="1.0" />
<text x="168.20" y="265.70" font-size="6.5" text-anchor="middle" class="n" >0</text>
<line x1="182.50" y1="254.00" x2="182.50" y2="257.00" stroke="#222222" stroke-width="1.0" />
<text x="182.50" y="265.70" font-size="6.5" text-anchor="middle" class="n" >25</text>
<line x1="196.80" y1="254.00" x2="196.80" y2="257.00" stroke="#222222" stroke-width="1.0" />
<text x="196.80" y="265.70" font-size="6.5" text-anchor="middle" class="n" >50</text>
<line x1="211.10" y1="254.00" x2="211.10" y2="257.00" stroke="#222222" stroke-width="1.0" />
<text x="211.10" y="265.70" font-size="6.5" text-anchor="middle" class="n" >75</text>
<line x1="225.40" y1="254.00" x2="225.40" y2="257.00" stroke="#222222" stroke-width="1.0" />
<text x="225.40" y="265.70" font-size="6.5" text-anchor="middle" class="n" >100</text>
<line x1="239.70" y1="254.00" x2="239.70" y2="257.00" stroke="#222222" stroke-width="1.0" />
<text x="239.70" y="265.70" font-size="6.5" text-anchor="middle" class="n" >125</text>
<line x1="254.00" y1="254.00" x2="254.00" y2="257.00" stroke="#222222" stroke-width="1.0" />
<text x="254.00" y="265.70" font-size="6.5" text-anchor="middle" class="n" >150</text>
<text x="148.90" y="209.90" font-size="8.6" text-anchor="middle" font-weight="bold" textLength="65.80" lengthAdjust="spacingAndGlyphs" transform="rotate(-90 148.90 209.90)" >Mucositis duration (days)</text>
<text x="212.10" y="278.20" font-size="8.6" text-anchor="middle" font-weight="bold" textLength="54.20" lengthAdjust="spacingAndGlyphs" >4HCY AUC (μM · hr)</text>
<text class="n" x="171.90" y="177.30" font-size="6.3"><tspan font-style="italic">ρ</tspan> = 0.61</text>
<text class="n" x="171.90" y="184.30" font-size="6.3"><tspan font-style="italic">P</tspan> = .002</text>
<line x1="183.50" y1="234.50" x2="244.30" y2="214.60" stroke="#c83c52" stroke-width="1.0" />
<circle cx="210.80" cy="207.30" r="1.3" fill="#0a0a0a"/>
<circle cx="199.70" cy="220.10" r="1.3" fill="#0a0a0a"/>
<circle cx="190.00" cy="224.10" r="1.3" fill="#0a0a0a"/>
<circle cx="197.80" cy="225.70" r="1.3" fill="#0a0a0a"/>
<circle cx="209.10" cy="225.70" r="1.3" fill="#0a0a0a"/>
<circle cx="216.00" cy="224.10" r="1.3" fill="#0a0a0a"/>
<circle cx="232.80" cy="221.50" r="1.3" fill="#0a0a0a"/>
<circle cx="232.80" cy="225.90" r="1.3" fill="#0a0a0a"/>
<circle cx="243.60" cy="225.90" r="1.3" fill="#0a0a0a"/>
<circle cx="244.30" cy="231.40" r="1.3" fill="#0a0a0a"/>
<circle cx="183.50" cy="231.10" r="1.3" fill="#0a0a0a"/>
<circle cx="184.30" cy="234.30" r="1.3" fill="#0a0a0a"/>
<circle cx="191.70" cy="230.20" r="1.3" fill="#0a0a0a"/>
<circle cx="195.70" cy="231.50" r="1.3" fill="#0a0a0a"/>
<circle cx="192.60" cy="234.30" r="1.3" fill="#0a0a0a"/>
<circle cx="192.00" cy="235.70" r="1.3" fill="#0a0a0a"/>
<circle cx="190.20" cy="237.00" r="1.3" fill="#0a0a0a"/>
<circle cx="188.40" cy="238.40" r="1.3" fill="#0a0a0a"/>
<circle cx="187.10" cy="243.00" r="1.3" fill="#0a0a0a"/>
<circle cx="197.30" cy="241.20" r="1.3" fill="#0a0a0a"/>
<circle cx="207.00" cy="233.00" r="1.3" fill="#0a0a0a"/>
<circle cx="227.00" cy="176.00" r="1.3" fill="#0a0a0a"/>
<text x="269.20" y="158.80" font-size="11.2" text-anchor="start" font-weight="bold" fill="#111" >G</text>
<line x1="295.40" y1="164.80" x2="295.40" y2="254.20" stroke="#222222" stroke-width="1.4" />
<line x1="292.40" y1="254.20" x2="295.40" y2="254.20" stroke="#222222" stroke-width="1.0" />
<text x="289.60" y="256.54" font-size="6.5" text-anchor="end" class="n" >0</text>
<line x1="292.40" y1="239.87" x2="295.40" y2="239.87" stroke="#222222" stroke-width="1.0" />
<text x="289.60" y="242.21" font-size="6.5" text-anchor="end" class="n" >5</text>
<line x1="292.40" y1="225.53" x2="295.40" y2="225.53" stroke="#222222" stroke-width="1.0" />
<text x="289.60" y="227.87" font-size="6.5" text-anchor="end" class="n" >10</text>
<line x1="292.40" y1="211.20" x2="295.40" y2="211.20" stroke="#222222" stroke-width="1.0" />
<text x="289.60" y="213.54" font-size="6.5" text-anchor="end" class="n" >15</text>
<line x1="292.40" y1="196.87" x2="295.40" y2="196.87" stroke="#222222" stroke-width="1.0" />
<text x="289.60" y="199.21" font-size="6.5" text-anchor="end" class="n" >20</text>
<line x1="292.40" y1="182.53" x2="295.40" y2="182.53" stroke="#222222" stroke-width="1.0" />
<text x="289.60" y="184.87" font-size="6.5" text-anchor="end" class="n" >25</text>
<line x1="292.40" y1="168.20" x2="295.40" y2="168.20" stroke="#222222" stroke-width="1.0" />
<text x="289.60" y="170.54" font-size="6.5" text-anchor="end" class="n" >30</text>
<line x1="295.40" y1="254.20" x2="383.20" y2="254.20" stroke="#222222" stroke-width="1.4" />
<line x1="295.40" y1="254.20" x2="295.40" y2="257.20" stroke="#222222" stroke-width="1.0" />
<text x="295.40" y="265.90" font-size="6.5" text-anchor="middle" class="n" >0</text>
<line x1="309.75" y1="254.20" x2="309.75" y2="257.20" stroke="#222222" stroke-width="1.0" />
<text x="309.75" y="265.90" font-size="6.5" text-anchor="middle" class="n" >25</text>
<line x1="324.10" y1="254.20" x2="324.10" y2="257.20" stroke="#222222" stroke-width="1.0" />
<text x="324.10" y="265.90" font-size="6.5" text-anchor="middle" class="n" >50</text>
<line x1="338.45" y1="254.20" x2="338.45" y2="257.20" stroke="#222222" stroke-width="1.0" />
<text x="338.45" y="265.90" font-size="6.5" text-anchor="middle" class="n" >75</text>
<line x1="352.80" y1="254.20" x2="352.80" y2="257.20" stroke="#222222" stroke-width="1.0" />
<text x="352.80" y="265.90" font-size="6.5" text-anchor="middle" class="n" >100</text>
<line x1="367.15" y1="254.20" x2="367.15" y2="257.20" stroke="#222222" stroke-width="1.0" />
<text x="367.15" y="265.90" font-size="6.5" text-anchor="middle" class="n" >125</text>
<line x1="381.50" y1="254.20" x2="381.50" y2="257.20" stroke="#222222" stroke-width="1.0" />
<text x="381.50" y="265.90" font-size="6.5" text-anchor="middle" class="n" >150</text>
<text x="276.40" y="210.30" font-size="8.6" text-anchor="middle" font-weight="bold" textLength="88.00" lengthAdjust="spacingAndGlyphs" transform="rotate(-90 276.40 210.30)" >CD4<tspan baseline-shift="super" font-size="4.5">+</tspan> T cells on day 14 (cells/μL)</text>
<text x="339.60" y="278.80" font-size="8.6" text-anchor="middle" font-weight="bold" textLength="54.50" lengthAdjust="spacingAndGlyphs" >4HCY AUC (μM · hr)</text>
<text class="n" x="357.90" y="176.90" font-size="6.3"><tspan font-style="italic">ρ</tspan> = −0.46</text>
<text class="n" x="357.90" y="183.90" font-size="6.3"><tspan font-style="italic">P</tspan> = .03</text>
<line x1="310.50" y1="213.10" x2="371.00" y2="251.50" stroke="#b82a3c" stroke-width="1.2" />
<circle cx="316.80" cy="177.80" r="1.3" fill="#0a0a0a"/>
<circle cx="316.70" cy="205.00" r="1.3" fill="#0a0a0a"/>
<circle cx="318.10" cy="206.80" r="1.3" fill="#0a0a0a"/>
<circle cx="319.50" cy="208.90" r="1.3" fill="#0a0a0a"/>
<circle cx="325.10" cy="205.90" r="1.3" fill="#0a0a0a"/>
<circle cx="326.80" cy="205.90" r="1.3" fill="#0a0a0a"/>
<circle cx="334.60" cy="203.10" r="1.3" fill="#0a0a0a"/>
<circle cx="310.90" cy="220.10" r="1.3" fill="#0a0a0a"/>
<circle cx="315.30" cy="224.50" r="1.3" fill="#0a0a0a"/>
<circle cx="324.40" cy="221.20" r="1.3" fill="#0a0a0a"/>
<circle cx="336.00" cy="220.10" r="1.3" fill="#0a0a0a"/>
<circle cx="323.00" cy="228.70" r="1.3" fill="#0a0a0a"/>
<circle cx="313.90" cy="231.50" r="1.3" fill="#0a0a0a"/>
<circle cx="317.00" cy="232.60" r="1.3" fill="#0a0a0a"/>
<circle cx="342.70" cy="225.70" r="1.3" fill="#0a0a0a"/>
<circle cx="360.00" cy="244.60" r="1.3" fill="#0a0a0a"/>
<circle cx="360.00" cy="251.50" r="1.3" fill="#0a0a0a"/>
<circle cx="371.00" cy="250.10" r="1.3" fill="#0a0a0a"/>
<circle cx="354.10" cy="253.60" r="1.3" fill="#0a0a0a"/>
<circle cx="338.40" cy="253.50" r="1.3" fill="#0a0a0a"/>
<circle cx="371.00" cy="254.00" r="1.3" fill="#0a0a0a"/>
<circle cx="319.30" cy="247.10" r="1.3" fill="#0a0a0a"/>
<circle cx="312.00" cy="238.80" r="1.3" fill="#0a0a0a"/>
<text x="393.60" y="158.80" font-size="11.2" text-anchor="start" font-weight="bold" fill="#111" >H</text>
<line x1="423.20" y1="164.80" x2="423.20" y2="254.00" stroke="#222222" stroke-width="1.4" />
<line x1="420.20" y1="254.00" x2="423.20" y2="254.00" stroke="#222222" stroke-width="1.0" />
<text x="418.00" y="256.34" font-size="6.5" text-anchor="end" class="n" >0</text>
<line x1="420.20" y1="232.55" x2="423.20" y2="232.55" stroke="#222222" stroke-width="1.0" />
<text x="418.00" y="234.89" font-size="6.5" text-anchor="end" class="n" >25</text>
<line x1="420.20" y1="211.10" x2="423.20" y2="211.10" stroke="#222222" stroke-width="1.0" />
<text x="418.00" y="213.44" font-size="6.5" text-anchor="end" class="n" >50</text>
<line x1="420.20" y1="189.65" x2="423.20" y2="189.65" stroke="#222222" stroke-width="1.0" />
<text x="418.00" y="191.99" font-size="6.5" text-anchor="end" class="n" >75</text>
<line x1="420.20" y1="168.20" x2="423.20" y2="168.20" stroke="#222222" stroke-width="1.0" />
<text x="418.00" y="170.54" font-size="6.5" text-anchor="end" class="n" >100</text>
<line x1="423.20" y1="254.00" x2="511.30" y2="254.00" stroke="#222222" stroke-width="1.4" />
<line x1="447.90" y1="254.00" x2="447.90" y2="257.00" stroke="#222222" stroke-width="1.0" />
<text x="447.90" y="266.40" font-size="6.5" text-anchor="middle" class="n" >No cGVHD</text>
<line x1="484.40" y1="254.00" x2="484.40" y2="257.00" stroke="#222222" stroke-width="1.0" />
<text x="484.40" y="266.40" font-size="6.5" text-anchor="middle" class="n" >cGVHD</text>
<text x="400.20" y="210.40" font-size="8.6" text-anchor="middle" font-weight="bold" textLength="54.00" lengthAdjust="spacingAndGlyphs" transform="rotate(-90 400.20 210.40)" >4HCY AUC (μM · hr)</text>
<line x1="448.30" y1="175.10" x2="484.50" y2="175.10" stroke="#6a6a6a" stroke-width="1.3" />
<text x="466.10" y="170.20" font-size="6.5" text-anchor="middle" class="n" fill="#333" >NS</text>
<line x1="447.80" y1="192.90" x2="447.80" y2="207.00" stroke="#b82030" stroke-width="1.1" />
<line x1="447.80" y1="218.00" x2="447.80" y2="225.90" stroke="#b82030" stroke-width="1.1" />
<line x1="441.80" y1="192.90" x2="453.80" y2="192.90" stroke="#b82030" stroke-width="1.1" />
<line x1="441.80" y1="225.90" x2="453.80" y2="225.90" stroke="#b82030" stroke-width="1.1" />
<rect x="435.90" y="207.00" width="23.80" height="11.00" fill="#f49a94" stroke="#ee8a84" stroke-width="0.8" />
<line x1="435.90" y1="211.60" x2="459.70" y2="211.60" stroke="#b01c30" stroke-width="1.0" />
<circle cx="447.80" cy="192.90" r="1.2" fill="#a81c30"/>
<circle cx="447.80" cy="201.20" r="1.2" fill="#a81c30"/>
<circle cx="444.00" cy="209.80" r="1.2" fill="#a81c30"/>
<circle cx="451.30" cy="208.10" r="1.2" fill="#a81c30"/>
<circle cx="444.00" cy="213.00" r="1.2" fill="#a81c30"/>
<circle cx="451.70" cy="213.50" r="1.2" fill="#a81c30"/>
<circle cx="458.60" cy="211.20" r="1.2" fill="#a81c30"/>
<circle cx="444.00" cy="218.50" r="1.2" fill="#a81c30"/>
<circle cx="451.30" cy="218.80" r="1.2" fill="#a81c30"/>
<circle cx="447.80" cy="225.90" r="1.2" fill="#a81c30"/>
<circle cx="437.50" cy="211.00" r="1.2" fill="#a81c30"/>
<line x1="484.80" y1="183.00" x2="484.80" y2="193.30" stroke="#2e3240" stroke-width="1.1" />
<line x1="484.80" y1="223.60" x2="484.80" y2="231.30" stroke="#2e3240" stroke-width="1.1" />
<line x1="478.80" y1="183.00" x2="490.80" y2="183.00" stroke="#2e3240" stroke-width="1.1" />
<line x1="478.80" y1="231.30" x2="490.80" y2="231.30" stroke="#2e3240" stroke-width="1.1" />
<rect x="473.00" y="193.30" width="23.60" height="30.30" fill="#a5a9b9" stroke="#9296a8" stroke-width="0.8" />
<line x1="473.00" y1="212.40" x2="496.60" y2="212.40" stroke="#4a4e60" stroke-width="1.0" />
<circle cx="484.60" cy="183.00" r="1.45" fill="#383c4a"/>
<circle cx="484.60" cy="196.50" r="1.45" fill="#383c4a"/>
<circle cx="484.60" cy="206.70" r="1.45" fill="#383c4a"/>
<circle cx="484.60" cy="217.70" r="1.45" fill="#383c4a"/>
<circle cx="484.60" cy="221.30" r="1.45" fill="#383c4a"/>
<circle cx="484.60" cy="231.30" r="1.45" fill="#383c4a"/>
</svg>
<div class="frame"></div>
</body></html>
